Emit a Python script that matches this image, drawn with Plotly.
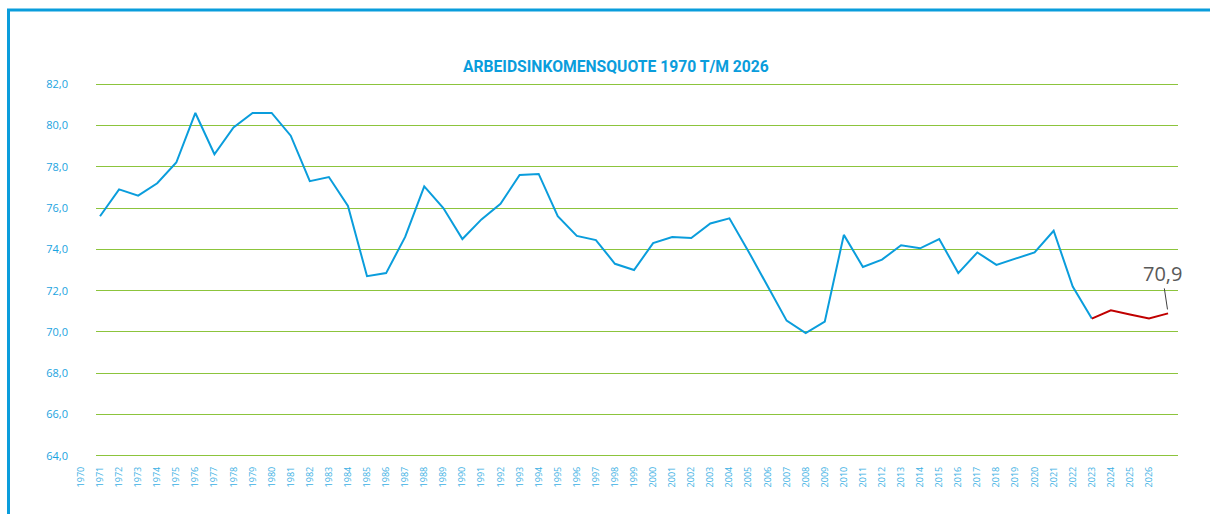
import plotly.graph_objects as go

years = list(range(1970, 2023))
values = [75.6, 76.9, 76.6, 77.2, 78.2, 80.6, 78.6, 79.9, 80.6, 80.6,
          79.5, 77.3, 77.5, 76.1, 72.7, 72.85, 74.6, 77.05, 76.0, 74.5,
          75.45, 76.2, 77.6, 77.65, 75.6, 74.65, 74.45, 73.3, 73.0, 74.3,
          74.6, 74.55, 75.25, 75.5, 73.9, 72.2, 70.55, 69.95, 70.5, 74.7,
          73.15, 73.5, 74.2, 74.05, 74.5, 72.85, 73.85, 73.25, 73.55, 73.85,
          74.9, 72.2, 70.65]
proj_years = [2022, 2023, 2024, 2025, 2026]
proj_values = [70.65, 71.05, 70.85, 70.65, 70.9]
tick_years = list(range(1970, 2027))
y_ticks = [64, 66, 68, 70, 72, 74, 76, 78, 80, 82]

BLUE = "#0a9ddc"
GREEN = "#8cc43c"
RED = "#c00000"

fig = go.Figure()
fig.add_trace(go.Scatter(x=years, y=values, mode="lines",
                         line=dict(color=BLUE, width=2), hoverinfo="skip"))
fig.add_trace(go.Scatter(x=proj_years, y=proj_values, mode="lines",
                         line=dict(color=RED, width=2), hoverinfo="skip"))

fig.add_annotation(x=proj_years[-1], y=proj_values[-1], xref="x", yref="y",
                   text="70,9", showarrow=True, arrowhead=0, arrowwidth=1,
                   arrowcolor="#404040", ax=-6, ay=-40, standoff=4,
                   font=dict(family="Open Sans, sans-serif", size=20, color="#595959"))

# frame
L, R, T, B = 96, 32, 83, 57
W, H = 1210, 514
pw, ph = W - L - R, H - T - B
def px(xp):
    return (xp - L) / pw
def py(yp):
    return (H - B - yp) / ph
fig.add_shape(type="line", xref="paper", yref="paper",
              x0=px(8.5), x1=px(8.5), y0=py(9), y1=py(600),
              line=dict(color=BLUE, width=3))
fig.add_shape(type="line", xref="paper", yref="paper",
              x0=px(7), x1=px(1300), y0=py(10), y1=py(10),
              line=dict(color=BLUE, width=3))

fig.update_layout(
    width=W, height=H,
    margin=dict(l=L, r=R, t=T, b=B, autoexpand=False),
    paper_bgcolor="white", plot_bgcolor="white",
    showlegend=False,
    separators=",.",
    title=dict(text="<b>ARBEIDSINKOMENSQUOTE 1970 T/M 2026</b>",
               x=0.509, xanchor="center", y=1 - 67 / H, yanchor="middle",
               font=dict(family="Roboto, sans-serif", size=15.7, color=BLUE)),
    xaxis=dict(range=[1969.79, 2026.52], tickmode="array",
               tickvals=tick_years, ticktext=[str(y) for y in tick_years],
               tickangle=-90, ticklabelshift=-19, ticklabelstandoff=7,
               ticks="", showgrid=False,
               zeroline=False, showline=False,
               tickfont=dict(family="Open Sans, sans-serif", size=9, color="#3bb0e4")),
    yaxis=dict(range=[63.95, 82.05], tickmode="array", tickvals=y_ticks,
               tickformat=".1f", showgrid=True, gridcolor=GREEN, gridwidth=1,
               zeroline=False, showline=False, ticks="", ticklabelstandoff=27,
               tickfont=dict(family="Open Sans, sans-serif", size=11, color="#1aa3e0")),
)

fig.write_html("out.html", config={"displayModeBar": False},
               post_script="document.body.style.margin='0';")
